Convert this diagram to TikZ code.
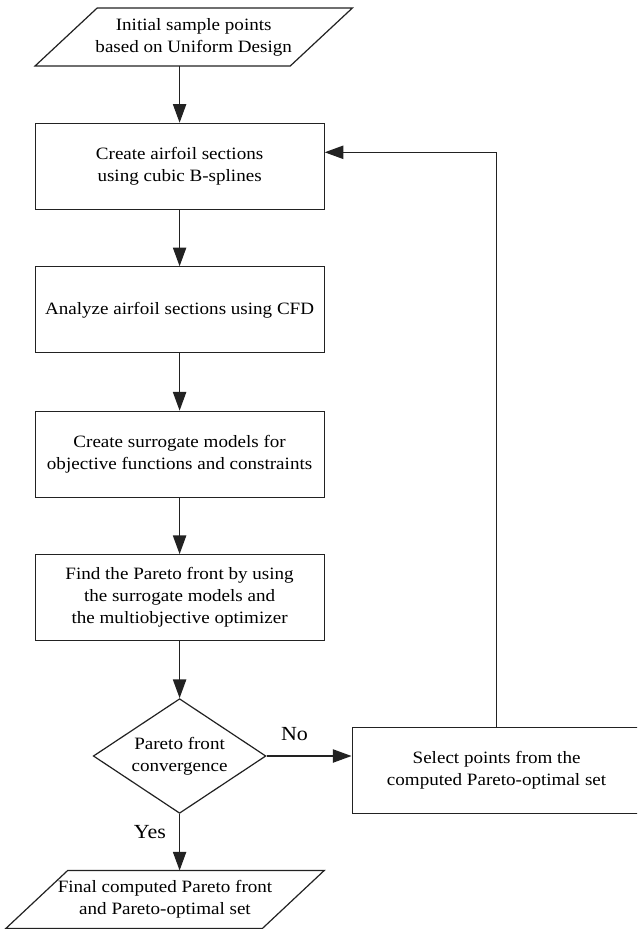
\documentclass[tikz,border=0pt]{standalone}
\usepackage{fontspec}
\setmainfont{Liberation Serif}[FakeStretch=1.10]
\usetikzlibrary{arrows.meta,shapes.geometric}
\definecolor{ink}{HTML}{222222}
\begin{document}
\begin{tikzpicture}[x=0.75pt,y=-0.75pt,
  line/.style={draw=ink, line width=0.9pt},
  arr/.style={draw=ink, line width=0.9pt, -{Triangle[length=14pt,width=10pt]}},
  txt/.style={font=\fontsize{13}{16.5}\selectfont, align=center, text=black},
  proc/.style={txt, line, shape=rectangle, minimum width=216.75pt, minimum height=64.5pt, inner sep=0pt},
  iobox/.style={txt, shape=rectangle, draw=none, inner sep=0pt},
  dia/.style={txt, line, diamond, aspect=1.5, minimum width=129.5pt, minimum height=86pt, inner sep=0pt},
  lab/.style={font=\fontsize{15}{18}\selectfont, text=black, inner sep=0pt}]
\useasboundingbox (0,0) rectangle (637,929);
\clip (0,0) rectangle (637,929);
\fill[white] (0,0) rectangle (637,929);

% input parallelogram
\node[iobox, minimum width=237.5pt, minimum height=43pt] (init) at (193.7,37)
  {Initial sample points\\based on Uniform Design};
\draw[line] ([xshift=46.5pt]init.north west) -- (init.north east)
  -- ([xshift=-46.5pt]init.south east) -- (init.south west) -- cycle;

\node[proc] (box1) at (179.6,166.3) {Create airfoil sections\\using cubic B-splines};
\node[proc] (box2) at (179.6,309.8) {Analyze airfoil sections using CFD};
\node[proc] (box3) at (179.6,454.2) {Create surrogate models for\\objective functions and constraints};
\node[proc] (box4) at (179.6,597.7) {Find the Pareto front by using\\the surrogate models and\\the multiobjective optimizer};
\node[dia] (dec) at (179.6,756) {Pareto front\\convergence};
\node[proc] (sel) at (496.6,770.2) {Select points from the\\computed Pareto-optimal set};

% output parallelogram
\node[iobox, minimum width=238.5pt, minimum height=43.2pt] (final) at (165,899.5)
  {Final computed Pareto front\\and Pareto-optimal set};
\draw[line] ([xshift=46.5pt]final.north west) -- (final.north east)
  -- ([xshift=-46.5pt]final.south east) -- (final.south west) -- cycle;

% connectors
\draw[arr] (init.south -| box1.north) -- (box1.north);
\draw[arr] (box1) -- (box2);
\draw[arr] (box2) -- (box3);
\draw[arr] (box3) -- (box4);
\draw[arr] (box4) -- (dec);
\draw[arr] (dec.south) -- (dec.south |- final.north);
\draw[arr] (dec.east) -- (dec.east -| sel.west);
\coordinate (fb) at (496.6,152.3);
\draw[arr] (sel.north) -- (fb) -- (fb -| box1.east);

\node[lab] (no) at (294.5,734) {No};
\node[lab] (yes) at (150,832) {Yes};
\end{tikzpicture}
\end{document}
